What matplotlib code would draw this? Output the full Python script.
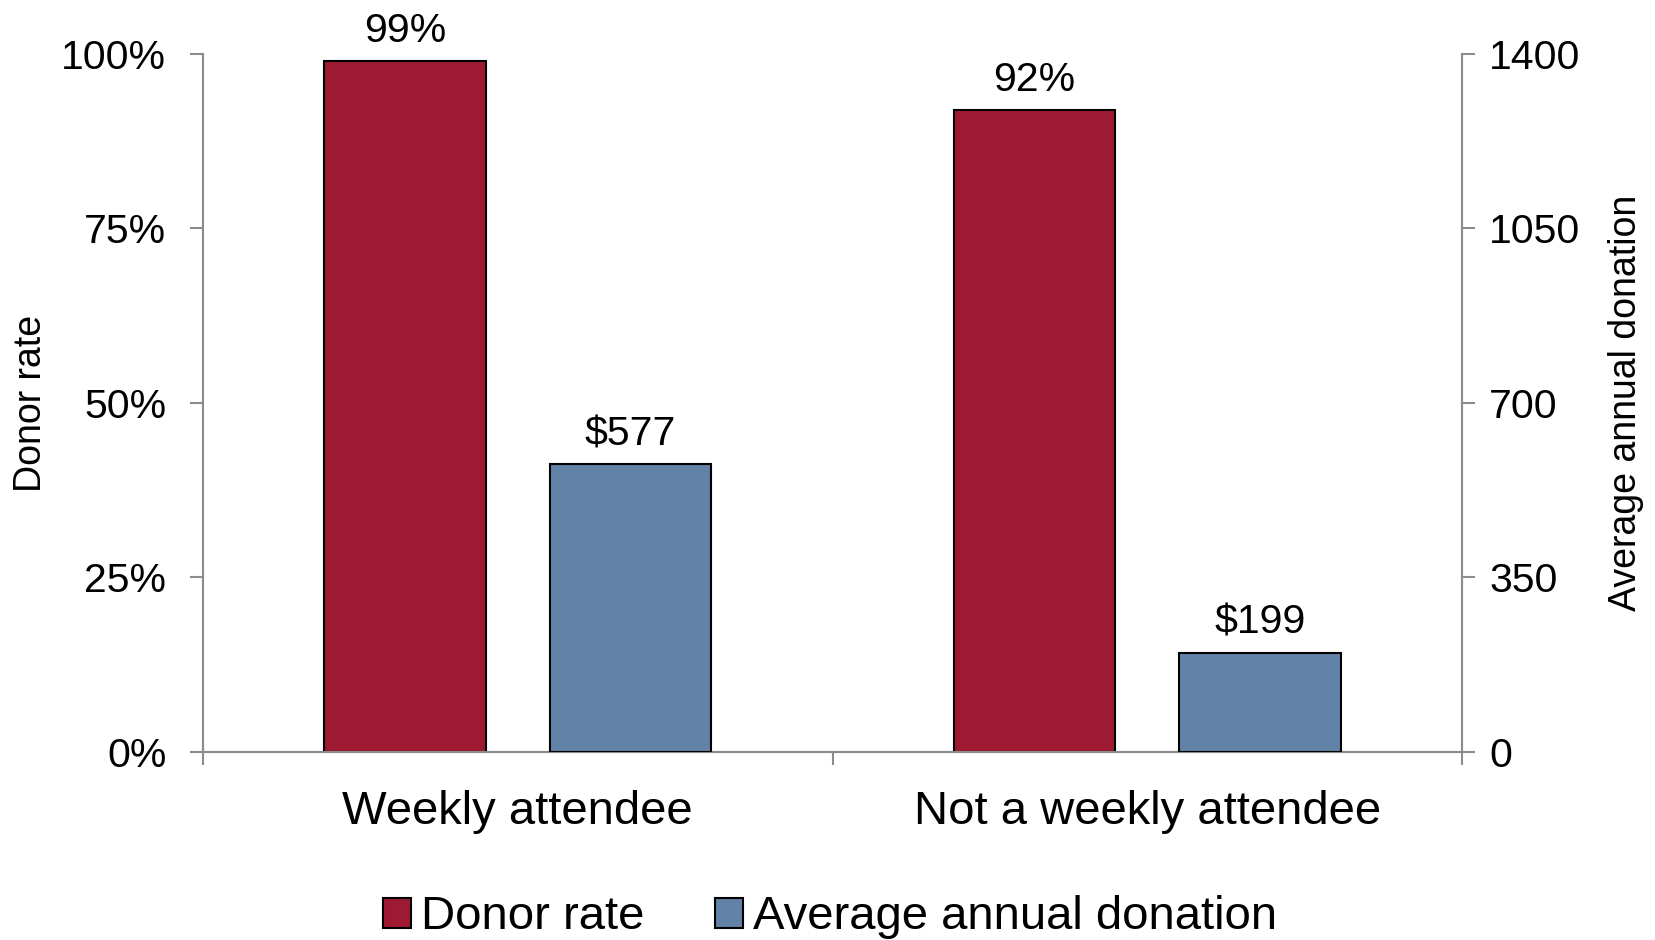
import numpy as np
import matplotlib
matplotlib.use("Agg")
import matplotlib.pyplot as plt
from matplotlib.patches import Patch

plt.rcParams["font.family"] = ["Liberation Sans", "DejaVu Sans"]

categories = ["Weekly attendee", "Not a weekly attendee"]
donor_rate = [99, 92]
avg_donation = [577, 199]
left_ticks = [0, 25, 50, 75, 100]
right_ticks = [0, 350, 700, 1050, 1400]

RED = "#9e1a32"
BLUE = "#6282a8"
GRAY = "#8c8c8c"

fig = plt.figure(figsize=(16.55, 9.4), dpi=100)
ax = fig.add_axes([0.1227, 0.2, 0.8834 - 0.1227, 0.9426 - 0.2])
ax2 = ax.twinx()

x = np.arange(len(categories))
w, off = 0.257, 0.179
ax.bar(x - off, donor_rate, w, color=RED, edgecolor="black", linewidth=1.5, zorder=3)
ax2.bar(x + off, avg_donation, w, color=BLUE, edgecolor="black", linewidth=1.5, zorder=3)

for xi, v in zip(x, donor_rate):
    ax.annotate(f"{v}%", (xi - off, v), xytext=(0, 8), textcoords="offset points",
                ha="center", va="bottom", fontsize=29.5)
for xi, v in zip(x, avg_donation):
    ax2.annotate(f"${v}", (xi + off, v), xytext=(0, 8), textcoords="offset points",
                 ha="center", va="bottom", fontsize=29.5)

ax.set_xlim(-0.5, 1.5)
ax.set_ylim(0, 100)
ax2.set_ylim(0, 1400)
ax.set_yticks(left_ticks)
ax.set_yticklabels([f"{t}%" for t in left_ticks])
ax2.set_yticks(right_ticks)
ax2.set_yticklabels([str(t) for t in right_ticks])

# category boundaries get the tick marks, centres get the labels
ax.set_xticks([-0.5, 0.5, 1.5])
ax.set_xticklabels([])
ax.set_xticks(x, minor=True)
ax.set_xticklabels(categories, minor=True, fontsize=34)
ax.tick_params(axis="x", which="major", direction="out", length=9.5, width=1.5, color=GRAY)
ax.tick_params(axis="x", which="minor", length=0, pad=27)

ax.tick_params(axis="y", direction="out", length=9.5, width=1.5, color=GRAY, labelsize=29.5, pad=17)
ax2.tick_params(axis="y", direction="out", length=9.5, width=1.5, color=GRAY, labelsize=29.5, pad=10)

for a in (ax, ax2):
    for s in a.spines.values():
        s.set_color(GRAY)
        s.set_linewidth(1.5)
    a.spines["top"].set_visible(False)

ax.set_ylabel("Donor rate", fontsize=27)
ax2.set_ylabel("Average annual donation", fontsize=27)
ax.yaxis.set_label_coords(-0.122, 0.5)
ax2.yaxis.set_label_coords(1.116, 0.5)

handles = [Patch(facecolor=RED, edgecolor="black", linewidth=1.5),
           Patch(facecolor=BLUE, edgecolor="black", linewidth=1.5)]
fig.legend(handles, ["Donor rate", "Average annual donation"], loc="center",
           bbox_to_anchor=(0.5015, 0.024), ncol=2, frameon=False, fontsize=34,
           handlelength=0.6, handleheight=0.6, handletextpad=0.2, columnspacing=1.5)

fig.savefig("out.png", dpi=100)
